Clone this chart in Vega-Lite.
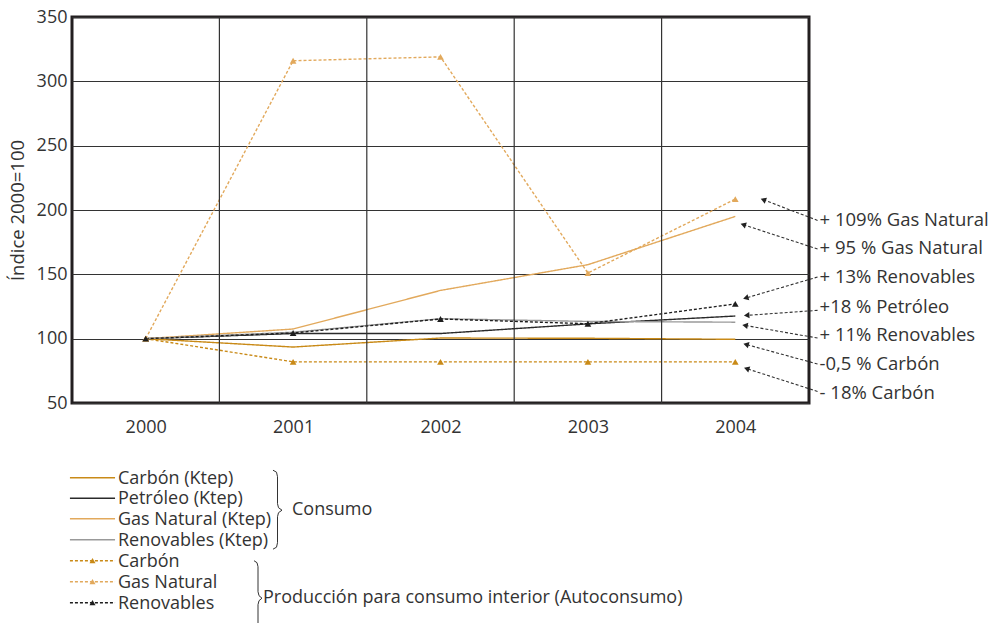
{
  "$schema": "https://vega.github.io/schema/vega-lite/v6.json",
  "width": 737,
  "height": 386,
  "autosize": {"type": "none"},
  "padding": {"left": 72, "top": 17, "right": 189, "bottom": 220},
  "background": "white",
  "config": {
    "view": {"stroke": "#231F20", "strokeWidth": 3},
    "font": "Open Sans",
    "legend": {"disable": true},
    "axis": {"labelColor": "#333333", "titleColor": "#333333", "labelFont": "Open Sans", "titleFont": "Open Sans"}
  },
  "datasets": {
    "series": [
      {"serie": "Carbón (Ktep)", "anio": 2000, "valor": 100},
      {"serie": "Carbón (Ktep)", "anio": 2001, "valor": 93.5},
      {"serie": "Carbón (Ktep)", "anio": 2002, "valor": 100.5},
      {"serie": "Carbón (Ktep)", "anio": 2003, "valor": 100.3},
      {"serie": "Carbón (Ktep)", "anio": 2004, "valor": 99.5},
      {"serie": "Petróleo (Ktep)", "anio": 2000, "valor": 100},
      {"serie": "Petróleo (Ktep)", "anio": 2001, "valor": 104},
      {"serie": "Petróleo (Ktep)", "anio": 2002, "valor": 104},
      {"serie": "Petróleo (Ktep)", "anio": 2003, "valor": 111.5},
      {"serie": "Petróleo (Ktep)", "anio": 2004, "valor": 117.6},
      {"serie": "Gas Natural (Ktep)", "anio": 2000, "valor": 100},
      {"serie": "Gas Natural (Ktep)", "anio": 2001, "valor": 107.5},
      {"serie": "Gas Natural (Ktep)", "anio": 2002, "valor": 137.5},
      {"serie": "Gas Natural (Ktep)", "anio": 2003, "valor": 157.5},
      {"serie": "Gas Natural (Ktep)", "anio": 2004, "valor": 195},
      {"serie": "Renovables (Ktep)", "anio": 2000, "valor": 100},
      {"serie": "Renovables (Ktep)", "anio": 2001, "valor": 105},
      {"serie": "Renovables (Ktep)", "anio": 2002, "valor": 115.5},
      {"serie": "Renovables (Ktep)", "anio": 2003, "valor": 113.4},
      {"serie": "Renovables (Ktep)", "anio": 2004, "valor": 112.8},
      {"serie": "Carbón", "anio": 2000, "valor": 100},
      {"serie": "Carbón", "anio": 2001, "valor": 82},
      {"serie": "Carbón", "anio": 2002, "valor": 82},
      {"serie": "Carbón", "anio": 2003, "valor": 82},
      {"serie": "Carbón", "anio": 2004, "valor": 82},
      {"serie": "Gas Natural", "anio": 2000, "valor": 100},
      {"serie": "Gas Natural", "anio": 2001, "valor": 316},
      {"serie": "Gas Natural", "anio": 2002, "valor": 319},
      {"serie": "Gas Natural", "anio": 2003, "valor": 151},
      {"serie": "Gas Natural", "anio": 2004, "valor": 208.5},
      {"serie": "Renovables", "anio": 2000, "valor": 100},
      {"serie": "Renovables", "anio": 2001, "valor": 104.4},
      {"serie": "Renovables", "anio": 2002, "valor": 115.3},
      {"serie": "Renovables", "anio": 2003, "valor": 111.6},
      {"serie": "Renovables", "anio": 2004, "valor": 127}
    ],
    "rejilla": [{"x": 2000.5}, {"x": 2001.5}, {"x": 2002.5}, {"x": 2003.5}],
    "notas": [
      {"texto": "+ 109% Gas Natural", "x": 2004.558, "y": 191.9, "xp": 2004.19, "yp": 208.0, "ty": 192.4, "giro": 21},
      {"texto": "+ 95 % Gas Natural", "x": 2004.558, "y": 169.7, "xp": 2004.054, "yp": 188.6, "ty": 170.5, "giro": 18},
      {"texto": "+ 13% Renovables", "x": 2004.558, "y": 147.9, "xp": 2004.071, "yp": 131.6, "ty": 147.9, "giro": 344},
      {"texto": "+18 % Petróleo", "x": 2004.558, "y": 122.0, "xp": 2004.077, "yp": 118.1, "ty": 124.6, "giro": 356},
      {"texto": "+ 11% Renovables", "x": 2004.558, "y": 100.5, "xp": 2004.066, "yp": 110.3, "ty": 102.5, "giro": 10},
      {"texto": "-0,5 % Carbón", "x": 2004.558, "y": 80.3, "xp": 2004.073, "yp": 95.5, "ty": 80.3, "giro": 15},
      {"texto": "- 18% Carbón", "x": 2004.558, "y": 59.0, "xp": 2004.077, "yp": 76.7, "ty": 57.8, "giro": 18}
    ],
    "leyenda": [
      {"serie": "Carbón (Ktep)", "x1": 1999.486, "x2": 1999.792, "xm": 1999.639, "xt": 1999.812, "y": -8.06},
      {"serie": "Petróleo (Ktep)", "x1": 1999.486, "x2": 1999.792, "xm": 1999.639, "xt": 1999.812, "y": -23.99},
      {"serie": "Gas Natural (Ktep)", "x1": 1999.486, "x2": 1999.792, "xm": 1999.639, "xt": 1999.812, "y": -39.92},
      {"serie": "Renovables (Ktep)", "x1": 1999.486, "x2": 1999.792, "xm": 1999.639, "xt": 1999.812, "y": -56.24},
      {"serie": "Carbón", "x1": 1999.486, "x2": 1999.792, "xm": 1999.639, "xt": 1999.812, "y": -72.56},
      {"serie": "Gas Natural", "x1": 1999.486, "x2": 1999.792, "xm": 1999.639, "xt": 1999.812, "y": -88.88},
      {"serie": "Renovables", "x1": 1999.486, "x2": 1999.792, "xm": 1999.639, "xt": 1999.812, "y": -105.2}
    ],
    "llaves": [
      {"llave": "consumo", "i": 1, "x": 2000.8636, "y": -2.23},
      {"llave": "consumo", "i": 2, "x": 2000.8874, "y": -3.78},
      {"llave": "consumo", "i": 3, "x": 2000.8942, "y": -7.28},
      {"llave": "consumo", "i": 4, "x": 2000.8942, "y": -28.26},
      {"llave": "consumo", "i": 5, "x": 2000.901, "y": -31.37},
      {"llave": "consumo", "i": 6, "x": 2000.9247, "y": -33.31},
      {"llave": "consumo", "i": 7, "x": 2000.901, "y": -35.26},
      {"llave": "consumo", "i": 8, "x": 2000.8942, "y": -38.37},
      {"llave": "consumo", "i": 9, "x": 2000.8942, "y": -58.57},
      {"llave": "consumo", "i": 10, "x": 2000.8874, "y": -62.07},
      {"llave": "consumo", "i": 11, "x": 2000.8636, "y": -63.62},
      {"llave": "produccion", "i": 1, "x": 2000.7347, "y": -72.56},
      {"llave": "produccion", "i": 2, "x": 2000.7551, "y": -74.12},
      {"llave": "produccion", "i": 3, "x": 2000.7619, "y": -77.22},
      {"llave": "produccion", "i": 4, "x": 2000.7619, "y": -96.65},
      {"llave": "produccion", "i": 5, "x": 2000.7687, "y": -99.76},
      {"llave": "produccion", "i": 6, "x": 2000.789, "y": -101.71},
      {"llave": "produccion", "i": 7, "x": 2000.7687, "y": -103.65},
      {"llave": "produccion", "i": 8, "x": 2000.7619, "y": -106.76},
      {"llave": "produccion", "i": 9, "x": 2000.7619, "y": -126.19},
      {"llave": "produccion", "i": 10, "x": 2000.7551, "y": -129.3},
      {"llave": "produccion", "i": 11, "x": 2000.7347, "y": -130.85}
    ],
    "grupos": [
      {"texto": "Consumo", "x": 2000.9925, "y": -32.9},
      {"texto": "Producción para consumo interior (Autoconsumo)", "x": 2000.7958, "y": -101.3}
    ]
  },
  "layer": [
    {
      "data": {"name": "series"},
      "mark": {"type": "line", "strokeWidth": 1.4},
      "encoding": {
        "x": {"field": "anio", "type": "quantitative", "scale": {"domain": [1999.5, 2004.5], "nice": false, "zero": false},
          "axis": {"values": [2000, 2001, 2002, 2003, 2004], "format": "d", "title": null, "grid": false, "ticks": false, "domain": false, "labelFontSize": 18, "labelPadding": 15}},
        "y": {"field": "valor", "type": "quantitative", "scale": {"domain": [50, 350], "nice": false, "zero": false},
          "axis": {"values": [50, 100, 150, 200, 250, 300, 350], "title": "Índice 2000=100", "titleFontSize": 18.5, "titleFontWeight": "normal", "titlePadding": 9, "grid": true, "gridColor": "#333333", "gridWidth": 1.2, "gridOpacity": 1, "ticks": false, "domain": false, "labelFontSize": 18, "labelPadding": 5}},
        "color": {"field": "serie", "type": "nominal", "scale": {"domain": ["Carbón (Ktep)", "Petróleo (Ktep)", "Gas Natural (Ktep)", "Renovables (Ktep)", "Carbón", "Gas Natural", "Renovables"], "range": ["#C98A17", "#2A2A2A", "#E2A95C", "#999999", "#C98A17", "#E2A95C", "#1E1E1E"]}},
        "strokeDash": {"field": "serie", "type": "nominal", "scale": {"domain": ["Carbón (Ktep)", "Petróleo (Ktep)", "Gas Natural (Ktep)", "Renovables (Ktep)", "Carbón", "Gas Natural", "Renovables"], "range": [[1, 0], [1, 0], [1, 0], [1, 0], [3, 2], [3, 2], [3, 2]]}}
      }
    },
    {
      "data": {"name": "rejilla"},
      "mark": {"type": "rule", "color": "#333333", "strokeWidth": 1.2},
      "encoding": {
        "x": {"field": "x", "type": "quantitative"}
      }
    },
    {
      "data": {"name": "series"},
      "transform": [{"filter": {"field": "serie", "oneOf": ["Carbón", "Gas Natural", "Renovables"]}}],
      "mark": {"type": "point", "shape": "triangle-up", "filled": true, "size": 45, "opacity": 1},
      "encoding": {
        "x": {"field": "anio", "type": "quantitative"},
        "y": {"field": "valor", "type": "quantitative"},
        "color": {"field": "serie", "type": "nominal"}
      }
    },
    {
      "data": {"name": "notas"},
      "mark": {"type": "rule", "color": "#333333", "strokeWidth": 1.1, "strokeDash": [3, 2]},
      "encoding": {
        "x": {"field": "x", "type": "quantitative"},
        "y": {"field": "y", "type": "quantitative"},
        "x2": {"field": "xp"},
        "y2": {"field": "yp"}
      }
    },
    {
      "data": {"name": "notas"},
      "mark": {"type": "point", "shape": "triangle-left", "filled": true, "size": 40, "color": "#222222", "opacity": 1},
      "encoding": {
        "x": {"field": "xp", "type": "quantitative"},
        "y": {"field": "yp", "type": "quantitative"},
        "angle": {"field": "giro", "type": "quantitative", "scale": null}
      }
    },
    {
      "data": {"name": "notas"},
      "mark": {"type": "text", "align": "left", "baseline": "middle", "dx": 2, "fontSize": 18.5, "color": "#333333", "font": "Open Sans"},
      "encoding": {
        "x": {"field": "x", "type": "quantitative"},
        "y": {"field": "ty", "type": "quantitative"},
        "text": {"field": "texto"}
      }
    },
    {
      "data": {"name": "leyenda"},
      "mark": {"type": "rule", "strokeWidth": 1.4},
      "encoding": {
        "x": {"field": "x1", "type": "quantitative"},
        "x2": {"field": "x2"},
        "y": {"field": "y", "type": "quantitative"},
        "color": {"field": "serie", "type": "nominal"},
        "strokeDash": {"field": "serie", "type": "nominal"}
      }
    },
    {
      "data": {"name": "leyenda"},
      "transform": [{"filter": {"field": "serie", "oneOf": ["Carbón", "Gas Natural", "Renovables"]}}],
      "mark": {"type": "point", "shape": "triangle-up", "filled": true, "size": 36, "opacity": 1},
      "encoding": {
        "x": {"field": "xm", "type": "quantitative"},
        "y": {"field": "y", "type": "quantitative"},
        "color": {"field": "serie", "type": "nominal"}
      }
    },
    {
      "data": {"name": "leyenda"},
      "mark": {"type": "text", "align": "left", "baseline": "middle", "dy": 1, "fontSize": 18, "color": "#333333", "font": "Open Sans"},
      "encoding": {
        "x": {"field": "xt", "type": "quantitative"},
        "y": {"field": "y", "type": "quantitative"},
        "text": {"field": "serie"}
      }
    },
    {
      "data": {"name": "llaves"},
      "mark": {"type": "line", "color": "#333333", "strokeWidth": 1},
      "encoding": {
        "x": {"field": "x", "type": "quantitative"},
        "y": {"field": "y", "type": "quantitative"},
        "detail": {"field": "llave"},
        "order": {"field": "i", "type": "quantitative"}
      }
    },
    {
      "data": {"name": "grupos"},
      "mark": {"type": "text", "align": "left", "baseline": "middle", "fontSize": 18, "color": "#333333", "font": "Open Sans"},
      "encoding": {
        "x": {"field": "x", "type": "quantitative"},
        "y": {"field": "y", "type": "quantitative"},
        "text": {"field": "texto"}
      }
    }
  ]
}
